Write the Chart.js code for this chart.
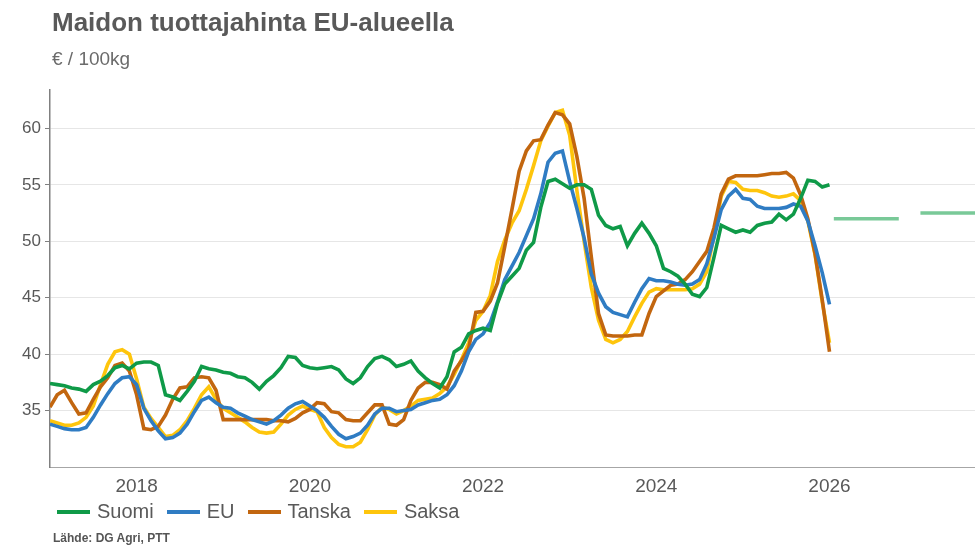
<!DOCTYPE html>
<html>
<head>
<meta charset="utf-8">
<script src="https://cdn.jsdelivr.net/npm/chart.js@4/dist/chart.umd.min.js"></script>
<style>
  html, body { margin: 0; padding: 0; background: #fff; }
  body { width: 975px; height: 547px; position: relative; overflow: hidden;
         font-family: "Liberation Sans", Arial, sans-serif; color: #595959; }
  #chart { position: absolute; left: 0; top: 0; }
  .title { position: absolute; left: 52px; top: 7px; font-size: 26px; font-weight: bold; color: #595959; }
  .subtitle { position: absolute; left: 52px; top: 48px; font-size: 19px; color: #6b6b6b; }
  .legend { position: absolute; left: 57px; top: 500px; display: flex; font-size: 20px; color: #595959; }
  .legend .item { display: flex; align-items: center; margin-right: 13px; }
  .legend i { display: inline-block; width: 33px; height: 4px; margin-right: 7px; }
  .source { position: absolute; left: 53px; top: 531px; font-size: 12px; font-weight: bold; color: #555; }
</style>
</head>
<body>
<canvas id="chart" width="975" height="547"></canvas>
<div class="title">Maidon tuottajahinta EU-alueella</div>
<div class="subtitle">€ / 100kg</div>
<div class="legend" id="legend"></div>
<div class="source">Lähde: DG Agri, PTT</div>
<script>
// kuukausittaiset hinnat, tammikuu 2017 - tammikuu 2026
const startYear = 2017;
const seriesNames = ['Suomi', 'EU', 'Tanska', 'Saksa'];
const seriesColors = ['#0f9a48', '#2f7cc3', '#c2660f', '#fec50c'];

const suomi = [37.4,37.3,37.2,37.0,36.9,36.7,37.3,37.6,38.1,38.8,39.0,38.7,
  39.2,39.3,39.3,39.0,36.4,36.2,35.9,36.7,37.6,38.9,38.7,38.6,
  38.4,38.3,38.0,37.9,37.5,36.9,37.6,38.1,38.8,39.8,39.7,39.0,
  38.8,38.7,38.8,38.9,38.6,37.8,37.4,37.9,38.9,39.6,39.8,39.5,
  38.9,39.1,39.4,38.5,37.9,37.4,37.0,38.0,40.2,40.6,41.8,42.1,
  42.3,42.1,44.5,46.2,46.9,47.6,49.2,49.9,53.0,55.3,55.5,55.1,
  54.7,55.0,55.0,54.6,52.3,51.4,51.1,51.3,49.6,50.7,51.6,50.7,
  49.6,47.6,47.3,46.9,46.2,45.3,45.1,45.9,48.6,51.4,51.1,50.8,
  51.0,50.8,51.4,51.6,51.7,52.4,51.9,52.4,53.8,55.4,55.3,54.8,
  55.0];
const eu = [33.8,33.6,33.4,33.3,33.3,33.5,34.4,35.5,36.5,37.4,37.9,38.0,
  37.3,35.2,34.1,33.2,32.5,32.6,33.0,33.8,34.9,35.9,36.2,35.7,
  35.3,35.2,34.8,34.5,34.2,34.0,33.8,34.1,34.6,35.2,35.6,35.8,
  35.4,35.0,34.4,33.6,32.9,32.5,32.7,33.0,33.7,34.7,35.2,35.2,
  34.9,35.0,35.1,35.5,35.7,35.9,36.0,36.4,37.2,38.5,40.2,41.3,
  41.8,42.8,44.6,46.6,47.8,49.0,50.5,52.0,54.2,57.0,57.8,58.0,
  55.3,52.9,50.3,47.1,45.4,44.2,43.7,43.5,43.3,44.6,45.8,46.7,
  46.5,46.5,46.4,46.2,46.1,46.2,46.6,48.0,50.3,52.8,54.0,54.6,
  53.8,53.7,53.1,52.9,52.9,52.9,53.0,53.3,53.1,51.8,49.6,47.2,
  44.4];
const tanska = [35.3,36.4,36.8,35.7,34.7,34.8,36.0,37.1,37.9,39.0,39.2,38.5,
  36.4,33.4,33.3,33.6,34.6,36.0,37.0,37.1,37.9,38.0,37.9,36.8,
  34.2,34.2,34.2,34.2,34.2,34.2,34.2,34.1,34.1,34.0,34.3,34.8,
  35.1,35.7,35.6,34.9,34.8,34.2,34.1,34.1,34.8,35.5,35.5,33.8,
  33.7,34.2,35.9,37.0,37.5,37.5,37.3,36.9,38.5,39.4,40.5,43.7,
  43.8,44.7,46.3,49.5,52.8,56.2,58.0,58.9,59.0,60.3,61.4,61.2,
  60.4,57.5,53.8,48.6,43.6,41.7,41.6,41.6,41.6,41.7,41.7,43.6,
  45.1,45.6,46.1,46.2,46.6,47.3,48.2,49.1,51.2,54.2,55.5,55.8,
  55.8,55.8,55.8,55.9,56.0,56.0,56.1,55.6,54.1,52.0,48.9,44.8,
  40.2];
const saksa = [34.1,33.9,33.7,33.7,33.9,34.4,35.4,37.3,39.1,40.2,40.4,40.0,
  37.8,35.3,34.3,33.5,32.7,32.8,33.3,34.1,35.2,36.4,37.1,36.0,
  35.2,34.8,34.4,34.0,33.5,33.1,33.0,33.1,33.8,34.6,35.1,35.4,
  35.1,34.9,33.5,32.6,32.0,31.8,31.8,32.2,33.3,34.6,35.3,35.1,
  34.7,35.0,35.4,35.9,36.0,36.1,36.5,37.1,38.2,39.5,41.0,43.0,
  43.8,45.2,48.2,50.1,51.6,52.7,54.6,56.7,58.9,60.2,61.4,61.6,
  59.4,54.5,50.0,45.9,43.0,41.3,41.0,41.3,42.0,43.3,44.5,45.5,
  45.8,45.7,45.7,45.7,45.7,45.8,46.2,47.3,50.5,54.0,55.3,55.2,
  54.6,54.5,54.5,54.3,54.0,53.9,54.0,54.2,53.6,51.8,48.8,44.6,
  41.0];

// Suomen ennuste vuosille 2026 ja 2027
const forecastStart = [2026.05, 2027.05];
const forecastEnd = [2026.8, 2027.8];
const forecastValues = [52.0, 52.5];
const forecastColor = '#79c998';

const xTicks = [2018, 2020, 2022, 2024, 2026];
const yTicks = [35, 40, 45, 50, 55, 60];

const allSeries = [suomi, eu, tanska, saksa];
const months = suomi.map((_, i) => startYear + i / 12);
const family = '"Liberation Sans", Arial, sans-serif';

const datasets = allSeries.map((s, k) => ({
    label: seriesNames[k],
    data: s.map((v, i) => ({ x: months[i], y: v })),
    borderColor: seriesColors[k],
    borderWidth: 3.6,
    pointRadius: 0,
    tension: 0,
    fill: false
}));

const fcData = [];
forecastValues.forEach((v, k) => {
    if (k > 0) fcData.push({ x: (forecastEnd[k - 1] + forecastStart[k]) / 2, y: null });
    fcData.push({ x: forecastStart[k], y: v }, { x: forecastEnd[k], y: v });
});
datasets.push({
    label: 'Ennuste',
    data: fcData,
    borderColor: forecastColor,
    borderWidth: 3.6,
    pointRadius: 0,
    spanGaps: false
});

// legenda
const legend = document.getElementById('legend');
seriesNames.forEach((n, k) => {
    const el = document.createElement('span');
    el.className = 'item';
    el.innerHTML = `<i style="background:${seriesColors[k]}"></i>${n}`;
    legend.appendChild(el);
});

const ctx = document.getElementById('chart').getContext('2d');
new Chart(ctx, {
    type: 'line',
    data: { datasets },
    options: {
        responsive: false,
        animation: false,
        devicePixelRatio: 1,
        layout: { padding: { top: 90, left: 0, right: 0, bottom: 0 } },
        plugins: { legend: { display: false }, tooltip: { enabled: false } },
        scales: {
            x: {
                type: 'linear',
                min: startYear,
                max: 2027.68,
                afterBuildTicks: s => { s.ticks = xTicks.map(v => ({ value: v })); },
                afterFit: s => { s.height = 80; },
                grid: { display: false, drawTicks: false },
                border: { color: '#a6a6a6', width: 1 },
                ticks: { padding: 8, color: '#595959', font: { size: 19, family }, maxRotation: 0, autoSkip: false,
                         callback: v => String(v) }
            },
            y: {
                min: 30,
                max: 63.4,
                afterBuildTicks: s => { s.ticks = yTicks.map(v => ({ value: v })); },
                afterFit: s => { s.width = 50; },
                grid: { color: '#e6e6e6', tickColor: '#808080', tickLength: 5 },
                border: { color: '#808080', width: 1.5 },
                ticks: { padding: 4, color: '#595959', font: { size: 17, family } }
            }
        }
    }
});
</script>
</body>
</html>
